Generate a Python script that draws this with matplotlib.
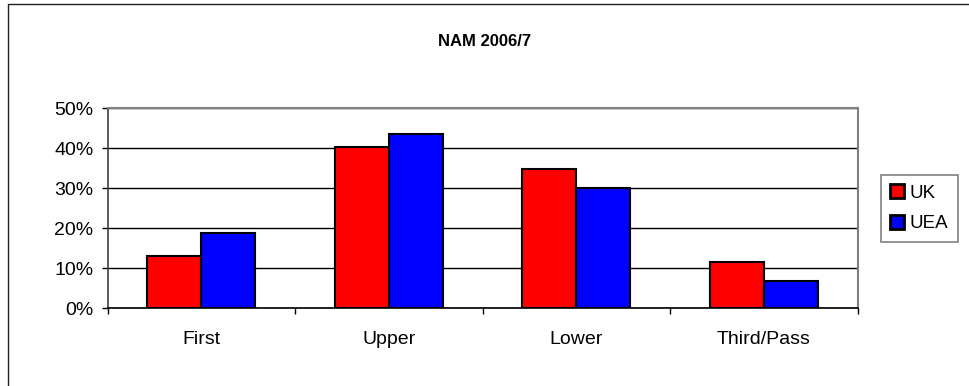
import matplotlib
matplotlib.use('Agg')
import matplotlib.pyplot as plt
import matplotlib.patches as mpatches
from matplotlib.ticker import FuncFormatter
import numpy as np

# ─── Data ────────────────────────────────────────────────────────────────────
categories = ['First', 'Upper', 'Lower', 'Third/Pass']
uk = [13.1, 40.4, 34.8, 11.5]
uea = [18.9, 43.7, 30.2, 6.9]
series_names = ['UK', 'UEA']
title = 'NAM 2006/7'

plt.rcParams['font.family'] = ['Liberation Sans', 'DejaVu Sans']

fig = plt.figure(figsize=(9.7, 3.86), dpi=100, facecolor='white')

# outer chart frame (runs off right/bottom edge like the screenshot)
fig.patches.append(mpatches.Rectangle((8 / 970, -0.05), 1.2, 1 - 4 / 386 + 0.05,
                                      transform=fig.transFigure, fill=False,
                                      edgecolor='#202020', linewidth=1.0))

ax = fig.add_axes([107.7 / 970, 1 - 308.3 / 386, 750 / 970, 200 / 386])
ax.set_facecolor('white')

x = np.arange(len(categories))
w = 0.288
ax.bar(x - w / 2, uk, w, color='#ff0000', edgecolor='black', linewidth=1.5,
       label=series_names[0], zorder=3)
ax.bar(x + w / 2, uea, w, color='#0000ff', edgecolor='black', linewidth=1.5,
       label=series_names[1], zorder=3)

ax.set_xlim(-0.5, len(categories) - 0.5)
ax.set_ylim(0, 50)
ax.set_yticks(range(0, 51, 10))
ax.yaxis.set_major_formatter(FuncFormatter(lambda v, p: f'{int(v)}%'))
ax.set_xticks(np.arange(len(categories) + 1) - 0.5)
ax.set_xticklabels([])
ax.set_xticks(x, minor=True)
ax.set_xticklabels(categories, minor=True)
ax.tick_params(axis='x', which='minor', length=0, pad=16, labelsize=14)
ax.tick_params(axis='x', which='major', length=4.3, width=1, color='black')
ax.tick_params(axis='y', length=4.3, width=1, color='black', labelsize=14, pad=6)

ax.yaxis.grid(True, color='black', linewidth=1.0, zorder=0)
ax.set_axisbelow(True)

for side in ['top', 'right']:
    ax.spines[side].set_edgecolor('#808080')
    ax.spines[side].set_linewidth(1.5)
ax.spines['left'].set_edgecolor('#404040')
ax.spines['left'].set_linewidth(1.2)
ax.spines['bottom'].set_edgecolor('black')
ax.spines['bottom'].set_linewidth(1.2)

fig.text(485 / 970, 1 - 45.7 / 386, title, ha='center', va='baseline',
         fontsize=12, fontweight='bold')

leg = fig.legend(loc='center', bbox_to_anchor=(919.3 / 970, 1 - 208.3 / 386),
                 fontsize=13.5, frameon=True, fancybox=False, framealpha=1,
                 handlelength=0.75, handleheight=0.75, handletextpad=0.3,
                 borderpad=0.5, labelspacing=0.72, borderaxespad=0)
leg.get_frame().set_edgecolor('#808080')
leg.get_frame().set_linewidth(1.2)
for h in leg.legend_handles:
    h.set_linewidth(2)

fig.savefig('out.png', dpi=100, facecolor='white')
